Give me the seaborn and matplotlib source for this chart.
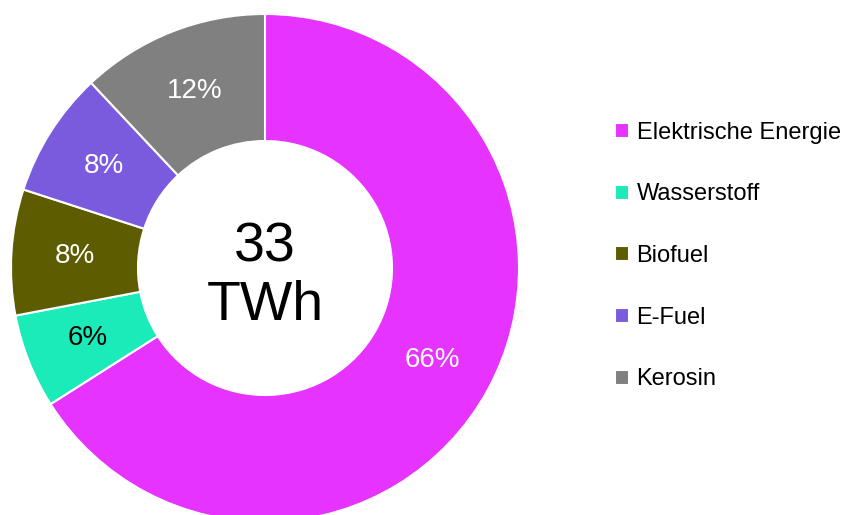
import matplotlib
matplotlib.use("Agg")
import matplotlib.pyplot as plt
import seaborn as sns

# data
categories = ["Elektrische Energie", "Wasserstoff", "Biofuel", "E-Fuel", "Kerosin"]
shares = [66, 6, 8, 8, 12]
colors = ["#E633FF", "#1AEBB9", "#5E5C00", "#7B5BDD", "#808080"]
label_colors = ["white", "black", "white", "white", "white"]
center_text = "33\nTWh"

sns.set_theme(style="white")
plt.rcParams["font.family"] = ["Liberation Sans", "DejaVu Sans"]
plt.rcParams["text.color"] = "black"

fig = plt.figure(figsize=(8.47, 5.15), dpi=100)
ax = fig.add_axes([11 / 847, -7 / 515, 508 / 847, 508 / 515])

wedges, texts, autotexts = ax.pie(
    shares,
    colors=colors,
    startangle=90,
    counterclock=False,
    radius=1,
    autopct="%d%%",
    pctdistance=0.75,
    wedgeprops=dict(width=0.5, edgecolor="white", linewidth=1.5),
    textprops=dict(fontsize=20),
)
for t, c in zip(autotexts, label_colors):
    t.set_color(c)

ax.text(0, -0.035, center_text, ha="center", va="center", fontsize=40,
        linespacing=1.15, color="black")
ax.set_xlim(-1, 1)
ax.set_ylim(-1, 1)
ax.set_aspect("equal")
ax.axis("off")

leg = fig.legend(
    wedges, categories,
    loc="center left", bbox_to_anchor=(594 / 847, 1 - 256 / 515),
    frameon=False, fontsize=17,
    handlelength=0.6, handleheight=0.6, handletextpad=0.3,
    labelspacing=1.68,
)
for t in leg.get_texts():
    t.set_color("black")

fig.savefig("out.png", dpi=100)
